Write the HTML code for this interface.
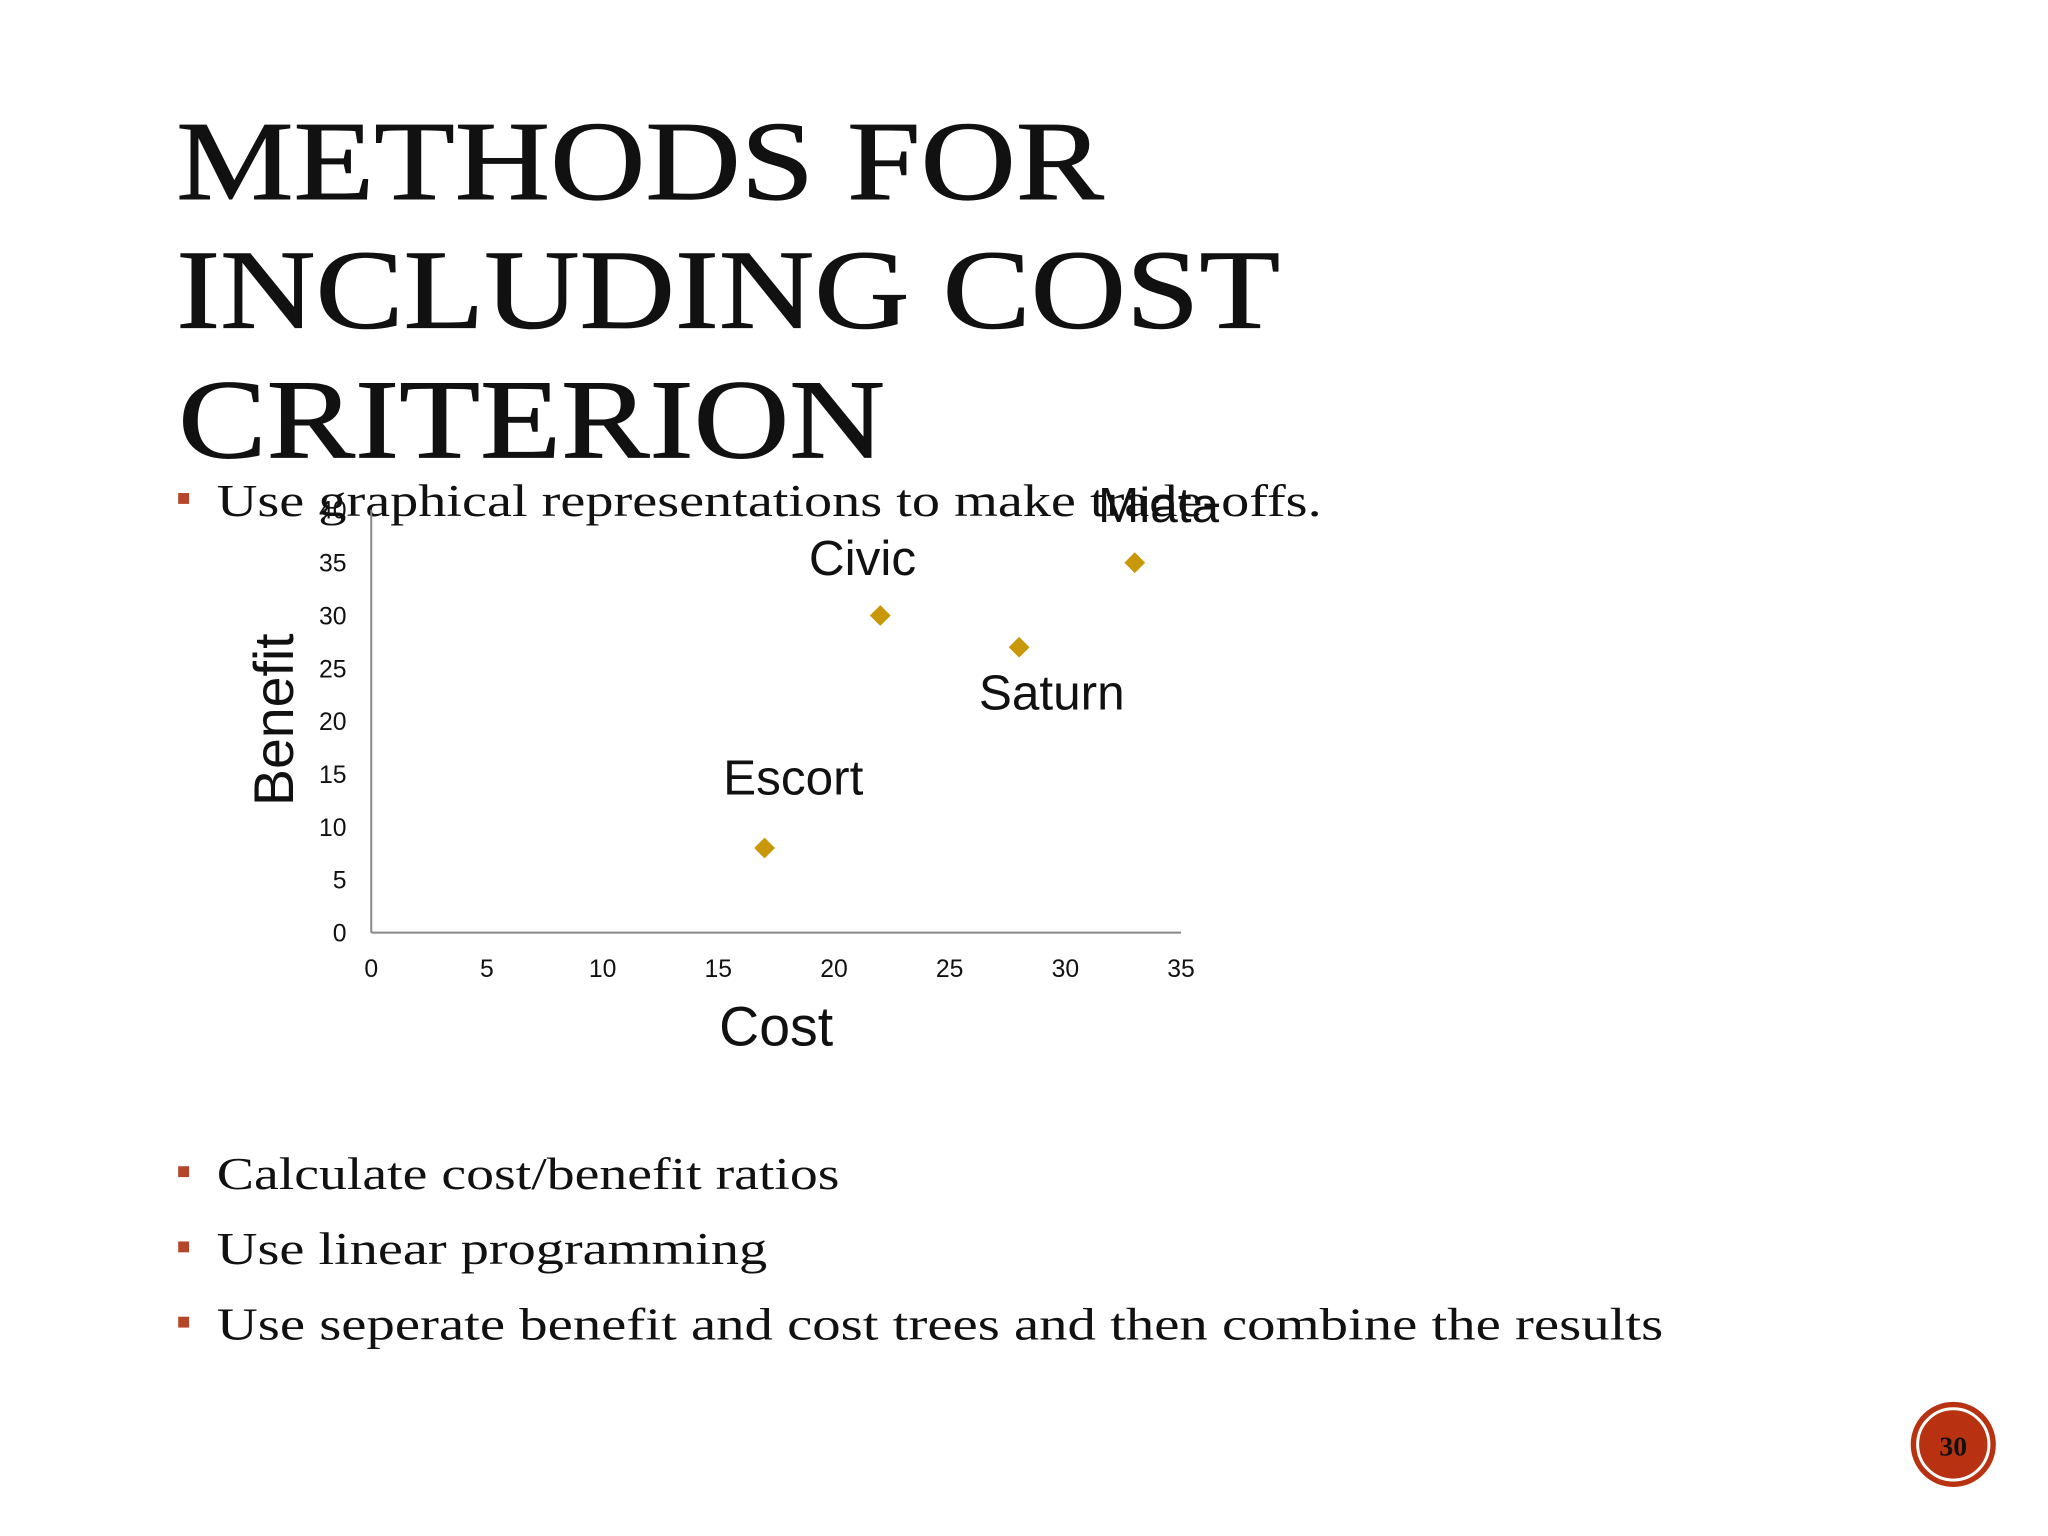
<!DOCTYPE html>
<html><head><meta charset="utf-8"><style>
html,body{margin:0;padding:0;background:#fff;}
svg{display:block;}
</style></head><body>
<svg id="slide" width="2048" height="1536" viewBox="0 0 2048 1536" xmlns="http://www.w3.org/2000/svg">
<g transform="scale(0.99)">
<g font-family="Liberation Serif, serif" font-size="114" fill="#111" stroke="#111" stroke-width="1">
<text x="178" y="201" textLength="937" lengthAdjust="spacingAndGlyphs">METHODS FOR</text>
<text x="178" y="331" textLength="1115" lengthAdjust="spacingAndGlyphs">INCLUDING COST</text>
<text x="180" y="462" textLength="714" lengthAdjust="spacingAndGlyphs">CRITERION</text>
</g>
<g font-family="Liberation Serif, serif" font-size="46" fill="#111">
<rect x="180" y="498" width="11" height="11" fill="#b5462a"/>
<text x="219" y="521" textLength="1116" lengthAdjust="spacingAndGlyphs">Use graphical representations to make trade-offs.</text>
<rect x="180" y="1178" width="11" height="11" fill="#b5462a"/>
<text x="219" y="1201" textLength="629" lengthAdjust="spacingAndGlyphs">Calculate cost/benefit ratios</text>
<rect x="180" y="1254" width="11" height="11" fill="#b5462a"/>
<text x="219" y="1277" textLength="556" lengthAdjust="spacingAndGlyphs">Use linear programming</text>
<rect x="180" y="1330" width="11" height="11" fill="#b5462a"/>
<text x="219" y="1353" textLength="1461" lengthAdjust="spacingAndGlyphs">Use seperate benefit and cost trees and then combine the results</text>
</g>
<g id="chart"></g>
<g>
<circle cx="1973" cy="1459" r="43" fill="#b83110"/>
<circle cx="1973" cy="1459" r="36" fill="none" stroke="#fff" stroke-width="3"/>
<text x="1973" y="1470" text-anchor="middle" font-family="Liberation Serif, serif" font-weight="bold" font-size="28" fill="#111">30</text>
</g>
</g>
</svg>
<script>
const cars = ["Escort", "Civic", "Saturn", "Miata"];
const costValues = [17, 22, 28, 33];
const benefitValues = [8, 30, 27, 35];
const xTicks = [0, 5, 10, 15, 20, 25, 30, 35];
const yTicks = [0, 5, 10, 15, 20, 25, 30, 35, 40];
const labelDx = [29, -18, 33, 24];
const labelDy = [-54, -41, 63, -41];

const NS = "http://www.w3.org/2000/svg";
const g = document.getElementById("chart");
const X0 = 375, X1 = 1193, Y0 = 942, Y1 = 515;
const xMin = 0, xMax = 35, yMin = 0, yMax = 40;
function sx(v){ return X0 + (v - xMin) / (xMax - xMin) * (X1 - X0); }
function sy(v){ return Y0 - (v - yMin) / (yMax - yMin) * (Y0 - Y1); }
function mk(tag, attrs, txt){
  const e = document.createElementNS(NS, tag);
  for (const k in attrs) e.setAttribute(k, attrs[k]);
  if (txt !== undefined) e.textContent = txt;
  g.appendChild(e);
  return e;
}
let e;
e = mk("line", {x1: X0, y1: sy(yMax), x2: X0, y2: Y0, stroke: "#888", "stroke-width": 2});


e = mk("line", {x1: X0, y1: Y0, x2: X1, y2: Y0, stroke: "#888", "stroke-width": 2});


yTicks.forEach(t => {
  e = mk("text", {x: 350, y: sy(t) + 9, "text-anchor": "end", "font-family": "Liberation Sans, sans-serif", "font-size": 25, fill: "#111"}, String(t));
  
  
});
xTicks.forEach(t => {
  e = mk("text", {x: sx(t), y: 987, "text-anchor": "middle", "font-family": "Liberation Sans, sans-serif", "font-size": 25, fill: "#111"}, String(t));
  
  
});
e = mk("text", {x: 784, y: 1056, "text-anchor": "middle", "font-family": "Liberation Sans, sans-serif", "font-size": 56, fill: "#111"}, "Cost");


e = mk("text", {x: 0, y: 0, "text-anchor": "middle", "font-family": "Liberation Sans, sans-serif", "font-size": 56, fill: "#111", transform: "translate(296,727) rotate(-90)"}, "Benefit");


cars.forEach((c, i) => {
  const px = sx(costValues[i]), py = sy(benefitValues[i]);
  const r = 10.5;
  e = mk("polygon", {points: `${px},${py-r} ${px+r},${py} ${px},${py+r} ${px-r},${py}`, fill: "#c9980a"});
  
  
  e = mk("text", {x: px + labelDx[i], y: py + labelDy[i], "text-anchor": "middle", "font-family": "Liberation Sans, sans-serif", "font-size": 50, fill: "#111"}, c);
  
  
});
</script>
</body></html>
